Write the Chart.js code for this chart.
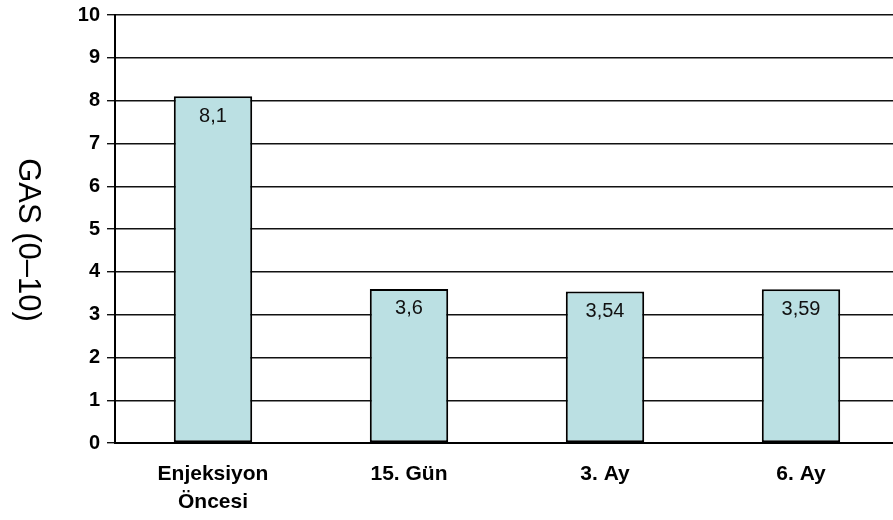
<!DOCTYPE html>
<html>
<head>
<meta charset="utf-8">
<script src="https://cdn.jsdelivr.net/npm/chart.js@4"></script>
<style>
  html, body { margin: 0; padding: 0; background: #fff; overflow: hidden; }
  #wrap { width: 910px; height: 520px; position: relative; }
</style>
</head>
<body>
<div id="wrap"><canvas id="gasChart"></canvas></div>
<script>
// GAS scores by time point
var categories = [["Enjeksiyon", "Öncesi"], "15. Gün", "3. Ay", "6. Ay"];
var gasValues = [8.1, 3.6, 3.54, 3.59];
var valueLabels = ["8,1", "3,6", "3,54", "3,59"];
var yTitle = "GAS (0–10)";

var fontFamily = "'Liberation Sans', Arial, sans-serif";

// value text just under the top of each bar
var barLabels = {
  id: "barLabels",
  afterDatasetsDraw: function(chart) {
    var ctx = chart.ctx;
    var meta = chart.getDatasetMeta(0);
    ctx.save();
    ctx.font = "20px " + fontFamily;
    ctx.fillStyle = "#111";
    ctx.textAlign = "center";
    ctx.textBaseline = "middle";
    meta.data.forEach(function(bar, i) {
      ctx.fillText(valueLabels[i], bar.x, bar.y + 20);
    });
    ctx.restore();
  }
};

// axis title reads top to bottom
var sideTitle = {
  id: "sideTitle",
  afterDraw: function(chart) {
    var ctx = chart.ctx;
    ctx.save();
    ctx.translate(28, 240);
    ctx.rotate(Math.PI / 2);
    ctx.font = "31px " + fontFamily;
    ctx.fillStyle = "#000";
    ctx.textAlign = "center";
    ctx.textBaseline = "middle";
    ctx.fillText(yTitle, 0, 0);
    ctx.restore();
  }
};

new Chart("gasChart", {
  type: "bar",
  data: {
    labels: categories,
    datasets: [{
      data: gasValues,
      backgroundColor: "#bbe0e3",
      borderColor: "#000",
      borderWidth: 2,
      borderSkipped: false,
      barPercentage: 0.4,
      categoryPercentage: 1
    }]
  },
  options: {
    responsive: true,
    maintainAspectRatio: false,
    animation: false,
    layout: { padding: { top: 15, right: 11, left: 0, bottom: 0 } },
    plugins: {
      legend: { display: false },
      tooltip: { enabled: false }
    },
    scales: {
      x: {
        grid: { display: false, drawTicks: false },
        border: { display: true, color: "#000", width: 2 },
        ticks: {
          color: "#000",
          padding: 18,
          maxRotation: 0,
          font: { family: fontFamily, size: 21, weight: "bold", lineHeight: 1.3 }
        },
        afterFit: function(scale) { scale.height = 77; }
      },
      y: {
        min: 0,
        max: 10,
        grid: { color: "#111", lineWidth: 1.4, tickLength: 8, drawTicks: true },
        border: { display: true, color: "#000", width: 2 },
        ticks: {
          stepSize: 1,
          color: "#000",
          padding: 7,
          font: { family: fontFamily, size: 20, weight: "bold" }
        },
        afterFit: function(scale) {
          scale.width = 115;
          scale.paddingTop = 0;
          scale.paddingBottom = 0;
        }
      }
    }
  },
  plugins: [barLabels, sideTitle]
});
</script>
</body>
</html>
